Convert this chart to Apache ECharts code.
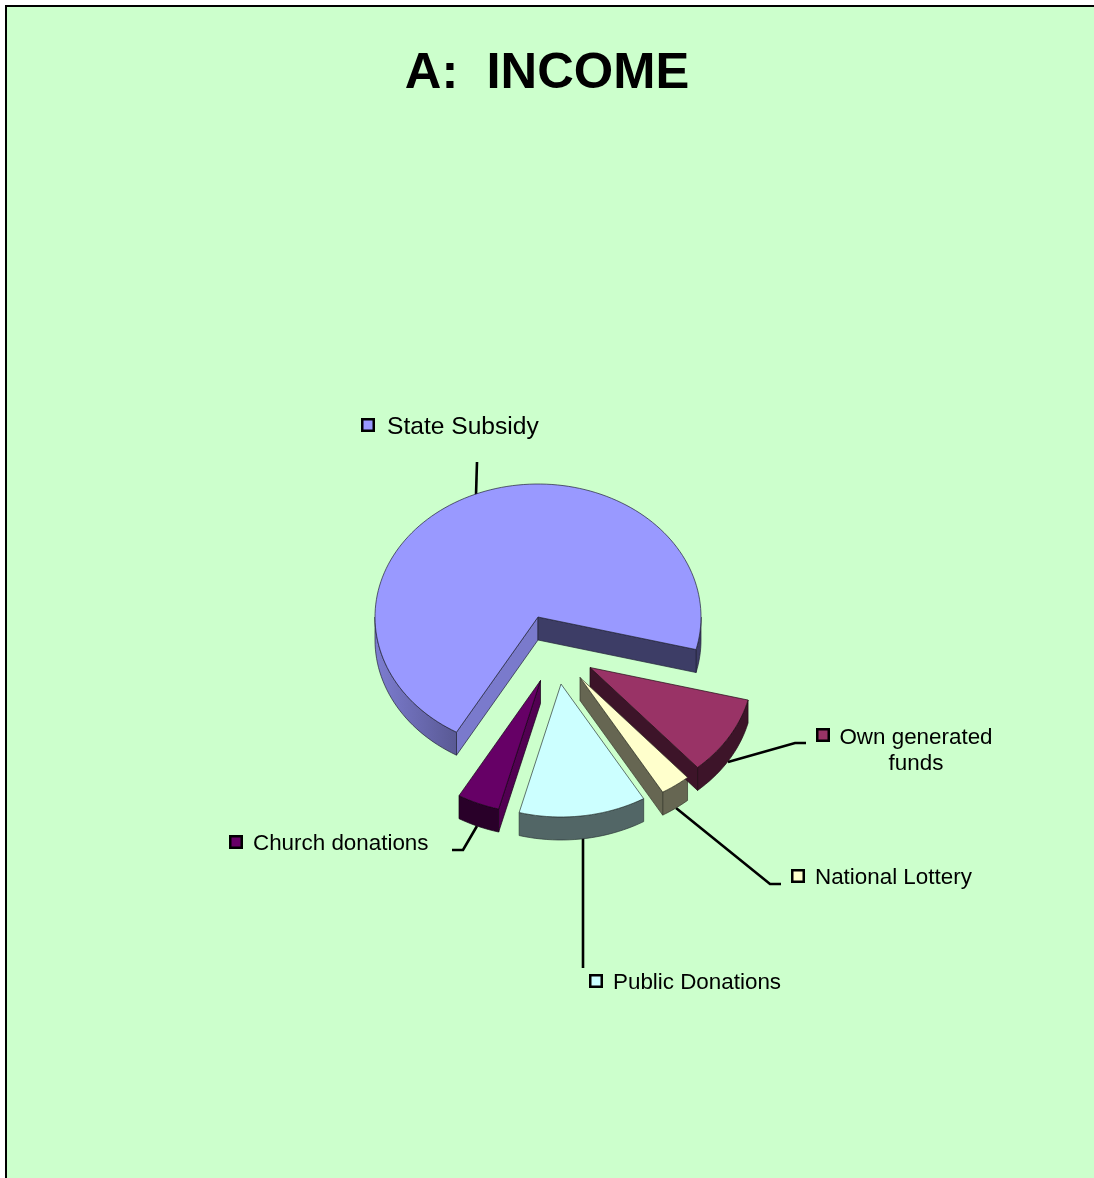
<!DOCTYPE html>
<html><head><meta charset="utf-8">
<style>html,body{margin:0;padding:0;background:#fff}#c{width:1094px;height:1178px}</style>
<script src="https://cdn.jsdelivr.net/npm/echarts@6/dist/echarts.min.js"></script>
</head><body><div id="c"></div>
<script>
// Data
const titleText = 'A:  INCOME';
const categories = ['State Subsidy', 'Own generated\nfunds', 'National Lottery', 'Public Donations', 'Church donations'];
const shares = [70.6, 9.6, 3.0, 12.6, 4.2];
const colors = ['#9999FF', '#993366', '#FFFFCC', '#CCFFFF', '#660066'];

// Layout
const START = 120, RX = 163, RY = 133, DEPTH = 23, CX = 538, CY = 617;
const explode = [[0, 0], [52, 50.5], [42, 60.5], [23, 67], [2.5, 63.5]];
const z2s = [1, 4, 3, 2, 2];
const keyPos = [[368, 425], [823, 735], [798, 876], [596, 981], [236, 842]];
const textPos = [[387, 427, 'left', 24.6], [916, 751, 'center', 22.4], [815, 878, 'left', 22.4], [613, 983, 'left', 22.4], [253, 844, 'left', 22.4]];
const leaders = [
  [[477, 462], [476, 495]],
  [[728, 762], [795, 743], [806, 743]],
  [[676, 808], [770, 884], [781, 884]],
  [[583, 838], [583, 968]],
  [[477, 826], [463, 850], [452, 850]]
];
const FONT = '"Liberation Sans", Arial, sans-serif';

const total = shares.reduce((a, b) => a + b, 0);
function shade(hex, f) {
  const n = parseInt(hex.slice(1), 16);
  return 'rgb(' + [(n >> 16) & 255, (n >> 8) & 255, n & 255].map(c => Math.round(c * f)).join(',') + ')';
}
function pt(c, deg, dz) {
  const a = deg * Math.PI / 180;
  return [c[0] + RX * Math.cos(a), c[1] + RY * Math.sin(a) + (dz || 0)];
}
function arc(c, a0, a1, dz) {
  const out = [], n = Math.max(2, Math.ceil(Math.abs(a1 - a0) / 2));
  for (let i = 0; i <= n; i++) out.push(pt(c, a0 + (a1 - a0) * i / n, dz));
  return out;
}
function renderSlice(params, api) {
  const i = params.dataIndex, col = colors[i];
  let before = 0;
  for (let k = 0; k < i; k++) before += shares[k];
  const a0 = START + before / total * 360;
  const a1 = a0 + api.value(0) / total * 360;
  const c = [CX + explode[i][0], CY + explode[i][1]];
  const base = [c[0], c[1] + DEPTH];
  const z2 = z2s[i];
  const edge = shade(col, 0.22);
  const kids = [];
  const poly = (points, fill, dz) => kids.push({
    type: 'polygon', z2: z2 + (dz || 0), shape: { points },
    style: { fill, stroke: edge, lineWidth: 0.7 }
  });
  // outer rim: only the parts on the viewer's side (0..180 and 360..540 clockwise from east)
  [[0, 180], [360, 540]].forEach(([lo, hi]) => {
    const s = Math.max(a0, lo), e = Math.min(a1, hi);
    if (e > s) {
      const pts = arc(c, s, e).concat(arc(c, e, s, DEPTH));
      const fill = (e - s >= 55)
        ? { type: 'linear', x: 1, y: 0, x2: 0, y2: 0, colorStops: [
            { offset: 0, color: shade(col, 0.58) }, { offset: 1, color: shade(col, 0.82) }] }
        : shade(col, 0.4);
      poly(pts, fill, 0);
    }
  });
  // cut faces facing the viewer
  const sinD = d => Math.sin(d * Math.PI / 180);
  if (sinD(a0 - 90) > 0) poly([c, pt(c, a0), pt(c, a0, DEPTH), base], shade(col, 0.8), 0);
  if (sinD(a1 + 90) > 0) poly([c, pt(c, a1), pt(c, a1, DEPTH), base], shade(col, 0.4), 0);
  // top face
  poly([c].concat(arc(c, a0, a1)), col, 1);
  // leader line
  kids.push({ type: 'polyline', z2: 0, shape: { points: leaders[i] },
    style: { stroke: '#000', lineWidth: 2.6, fill: null } });
  // key + label
  kids.push({ type: 'rect', z2: 6, shape: { x: keyPos[i][0] - 5.75, y: keyPos[i][1] - 5.75, width: 11.5, height: 11.5 },
    style: { fill: col, stroke: '#000', lineWidth: 2.5 } });
  kids.push({ type: 'text', z2: 6, style: {
    text: categories[i], x: textPos[i][0], y: textPos[i][1], align: textPos[i][2], verticalAlign: 'middle',
    fill: '#000', font: textPos[i][3] + 'px ' + FONT, lineHeight: 26 } });
  return { type: 'group', children: kids };
}

const chart = echarts.init(document.getElementById('c'), null, { renderer: 'canvas' });
chart.setOption({
  animation: false,
  backgroundColor: '#fff',
  graphic: [{ type: 'rect', z: -10, silent: true, shape: { x: 6, y: 6, width: 1300, height: 1400 },
    style: { fill: '#CCFFCC', stroke: '#000', lineWidth: 2 } }],
  title: { text: titleText, left: 'center', top: 49, padding: 0,
    textStyle: { color: '#000', fontFamily: FONT, fontWeight: 'bold', fontSize: 50.7 } },
  series: [{
    type: 'custom', coordinateSystem: 'none', silent: true,
    data: shares.map((v, i) => ({ name: categories[i], value: [v] })),
    renderItem: renderSlice
  }]
});
</script></body></html>
